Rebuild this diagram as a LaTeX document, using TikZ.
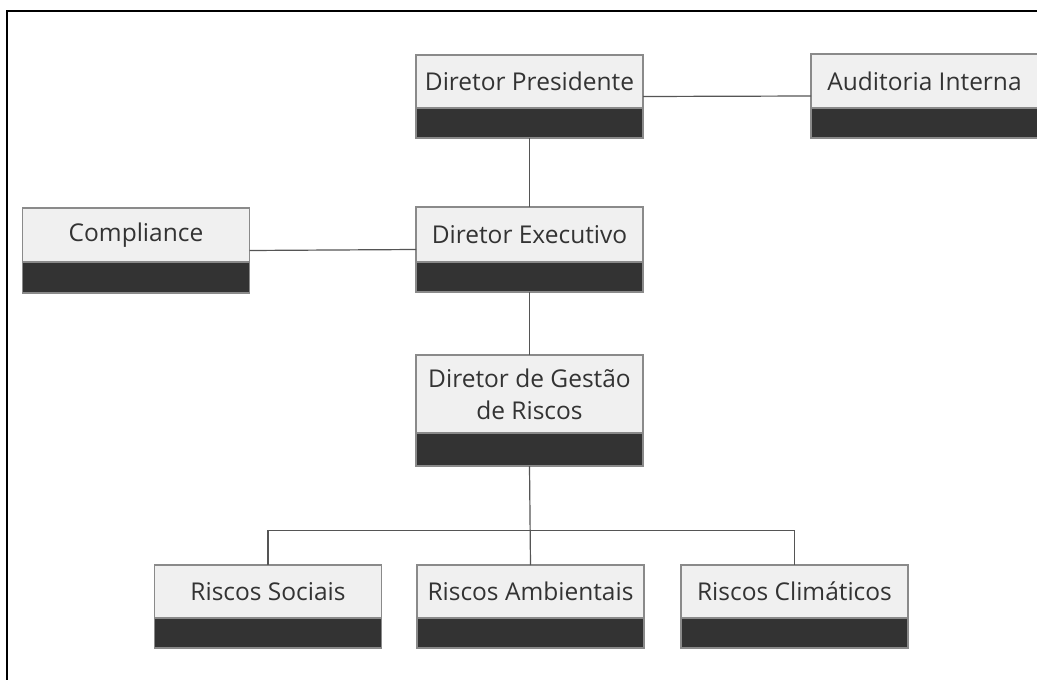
\documentclass[tikz,border=0pt]{standalone}
\usepackage{fontspec}
\setmainfont{Open Sans}
\definecolor{boxlight}{HTML}{F0F0F0}
\definecolor{boxdark}{HTML}{333333}
\definecolor{boxedge}{HTML}{8A8A8A}
\definecolor{linkcol}{HTML}{555555}
\definecolor{txtcol}{HTML}{333333}
\tikzset{
  orgbox/.style n args={2}{draw=boxedge, line width=1.3pt, fill=boxdark,
    minimum width=227pt, minimum height=#1, inner sep=0pt, outer sep=0pt,
    path picture={\fill[boxlight] (path picture bounding box.north west) rectangle ([yshift=#2]path picture bounding box.south east);
      \draw[boxedge, line width=1.3pt] ([yshift=#2]path picture bounding box.south west) -- ([yshift=#2]path picture bounding box.south east);}},
  boxtext/.style={text=txtcol, font=\fontsize{24.5}{32}\selectfont, align=center},
  link/.style={draw=linkcol, line width=1.2pt}
}
\begin{document}
\begin{tikzpicture}[x=1pt,y=-1pt]
\useasboundingbox (0,0) rectangle (1037,680);
\fill[white] (0,0) rectangle (1037,680);
\draw[black, line width=2.2pt] (7,690) -- (7,11) -- (1045,11);

% boxes: center x, center y of whole box
\node[orgbox={83pt}{30pt}, label={[boxtext, yshift=15pt]center:Diretor Presidente}] (pres) at (529.5,96.5) {};
\node[orgbox={84pt}{30pt}, label={[boxtext, yshift=15pt]center:Auditoria Interna}] (aud) at (924.5,96) {};
\node[orgbox={85pt}{30pt}, label={[boxtext, yshift=15pt]center:Diretor Executivo}] (exec) at (529.5,249.5) {};
\node[orgbox={85pt}{31pt}, label={[boxtext, yshift=15pt]center:Compliance}] (comp) at (136,250.5) {};
\node[orgbox={111pt}{33pt}, label={[boxtext, yshift=16.5pt]center:Diretor de Gestão\\de Riscos}] (gest) at (529.5,410.5) {};
\node[orgbox={83pt}{30pt}, label={[boxtext, yshift=15pt]center:Riscos Sociais}] (soc) at (268,606.5) {};
\node[orgbox={83pt}{30pt}, label={[boxtext, yshift=15pt]center:Riscos Ambientais}] (amb) at (530.5,606.5) {};
\node[orgbox={83pt}{30pt}, label={[boxtext, yshift=15pt]center:Riscos Climáticos}] (cli) at (794.5,606.5) {};

\coordinate (bar) at (529.5,530.5);
\draw[link] (pres.east) -- (aud.west);
\draw[link] (pres.south) -- (exec.north);
\draw[link] (comp.east) -- (exec.west);
\draw[link] (exec.south) -- (gest.north);
\draw[link] (gest.south) -- (amb.north);
\draw[link] (soc.north) |- (bar) -| (cli.north);
\end{tikzpicture}
\end{document}
